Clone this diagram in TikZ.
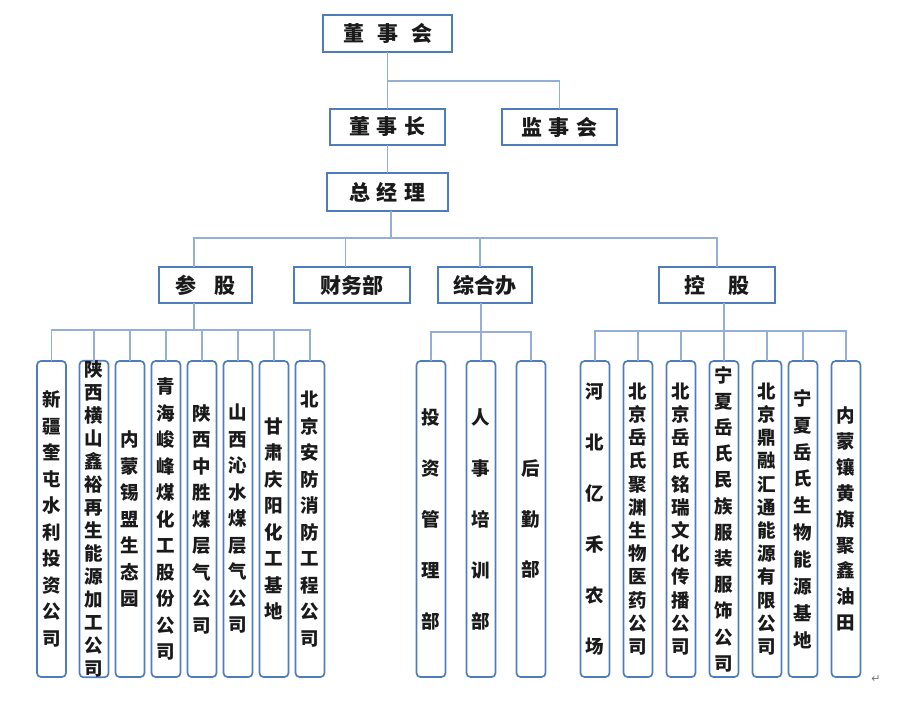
\documentclass[tikz,border=0pt]{standalone}
\usepackage{fontspec}
\newfontfamily\cjk{Noto Sans CJK SC}
\newfontfamily\dejavu{DejaVu Sans}
\usepackage{xcolor}
\usepackage{tikz}
\usetikzlibrary{positioning}
\XeTeXlinebreaklocale "zh"
\XeTeXlinebreakskip=0pt plus 1pt
\setlength{\parindent}{0pt}
\definecolor{boxblue}{HTML}{4F7DBB}
\definecolor{linkblue}{HTML}{93AFD6}
\definecolor{ink}{HTML}{1A1A1A}
\tikzset{
  topb/.style={draw=boxblue, line width=2pt, fill=white, inner sep=0pt,
               outer sep=0pt, minimum height=36pt, text=ink,
               font=\cjk\bfseries\fontsize{21}{24}\selectfont},
  % vertical columns, #1 = line pitch
  colb/.style={draw=boxblue, line width=1.7pt, rounded corners=4pt,
               inner sep=0pt, outer sep=0pt, minimum width=29pt,
               minimum height=316pt, text width=20pt, align=center, text=ink,
               font=\cjk\bfseries\fontsize{18.5}{#1}\selectfont},
  colb/.default=26.5,
  conn/.style={draw=linkblue, line width=1.3pt},
}

\begin{document}
\begin{tikzpicture}[x=1pt, y=-1pt]
\useasboundingbox (0,0) rectangle (900,707);

% ---- top ----
\node[topb, minimum width=129pt, minimum height=37pt] (dsh) at (387.5,33.5)
  {董\hspace{13pt}事\hspace{13pt}会};
\node[topb, minimum width=115pt, below=57pt of dsh] (dsz)
  {董\hspace{7pt}事\hspace{7pt}长};
\node[topb, minimum width=115pt, right=57pt of dsz] (jsh)
  {监\hspace{7pt}事\hspace{7pt}会};
\node[topb, minimum width=121pt, minimum height=38pt, below=28pt of dsz] (zjl)
  {总\hspace{7pt}经\hspace{7pt}理};

% ---- departments ----
\node[topb, minimum width=93pt]  (cg)  at (205.5,285) {参\hspace{18pt}股};
\node[topb, minimum width=116pt] (cwb) at (352,285)   {财务部};
\node[topb, minimum width=94pt]  (zhb) at (484.5,285) {综合办};
\node[topb, minimum width=116pt] (ks)  at (717,285)   {控\hspace{23pt}股};

% ---- 参股 ----
\node[colb] (cg1) at (51.5,519) {新疆奎屯水利投资公司};
\node[colb=23, right=13.5pt of cg1] (cg2) {陕西横山鑫裕再生能源加工公司};
\node[colb, right=7pt of cg2] (cg3) {内蒙锡盟生态园};
\node[colb, right=7pt of cg3] (cg4) {青海峻峰煤化工股份公司};
\node[colb, right=7pt of cg4] (cg5) {陕西中胜煤层气公司};
\node[colb, right=7pt of cg5] (cg6) {山西沁水煤层气公司};
\node[colb, right=7pt of cg6] (cg7) {甘肃庆阳化工基地};
\node[colb, right=7pt of cg7] (cg8) {北京安防消防工程公司};

% ---- 综合办 ----
\node[colb=51] (zh1) at (431,519) {投资管理部};
\node[colb=51, right=21pt of zh1] (zh2) {人事培训部};
\node[colb=50.5, right=21pt of zh2] (zh3) {后勤部};

% ---- 控股 ----
\node[colb=51] (ks1) at (595,519) {河北亿禾农场};
\node[colb=23.2, right=14pt of ks1] (ks2) {北京岳氏聚渊生物医药公司};
\node[colb=23.2, right=14pt of ks2] (ks3) {北京岳氏铭瑞文化传播公司};
\node[colb=26.2, right=14pt of ks3] (ks4) {宁夏岳氏民族服装服饰公司};
\node[colb=23.2, right=14pt of ks4] (ks5) {北京鼎融汇通能源有限公司};
\node[colb=26.9, right=7pt of ks5]  (ks6) {宁夏岳氏生物能源基地};
\node[colb=25.9, right=14pt of ks6] (ks7) {内蒙镶黄旗聚鑫油田};

\node[text=black!55, font=\dejavu\fontsize{11}{12}\selectfont] (ret) at (876,679) {↵};

% ---- connectors ----
\draw[conn] (dsh.south) -- (dsh.south |- dsz.north);
\draw[conn] (jsh.north) |- ([yshift=-29pt]dsh.south);
\draw[conn] (dsz.south) -- (zjl.north);

\coordinate (t2) at ([xshift=3.5pt,yshift=-27pt]zjl.south);
\draw[conn] ([xshift=3.5pt]zjl.south) -- (t2);
\draw[conn] ([xshift=-11.5pt]cg.north) |- (t2) -| (ks.north);
\draw[conn] ([xshift=-6.5pt]cwb.north) -- ([xshift=-6.5pt]cwb.north |- t2);
\draw[conn] ([xshift=-4.5pt]zhb.north) -- ([xshift=-4.5pt]zhb.north |- t2);

\coordinate (t3) at ([xshift=-11.5pt,yshift=-27pt]cg.south);
\draw[conn] ([xshift=-11.5pt]cg.south) -- (t3);
\draw[conn] (cg1.north) |- (t3) -| (cg8.north);
\draw[conn] (cg2.north) -- (cg2.north |- t3) (cg3.north) -- (cg3.north |- t3)
            (cg4.north) -- (cg4.north |- t3) (cg5.north) -- (cg5.north |- t3)
            (cg6.north) -- (cg6.north |- t3) (cg7.north) -- (cg7.north |- t3);

\coordinate (t4) at ([yshift=-29pt]zhb.south);
\draw[conn] (zhb.south -| zh2.north) -- (zh2.north);
\draw[conn] (zh1.north) |- (t4) -| (zh3.north);

\coordinate (t5) at ([yshift=-28pt]ks.south);
\draw[conn] (ks.south -| ks4.north) -- (ks4.north);
\draw[conn] (ks1.north) |- (t5) -| (ks7.north);
\draw[conn] (ks2.north) -- (ks2.north |- t5) (ks3.north) -- (ks3.north |- t5)
            (ks5.north) -- (ks5.north |- t5) (ks6.north) -- (ks6.north |- t5);

\end{tikzpicture}
\end{document}
